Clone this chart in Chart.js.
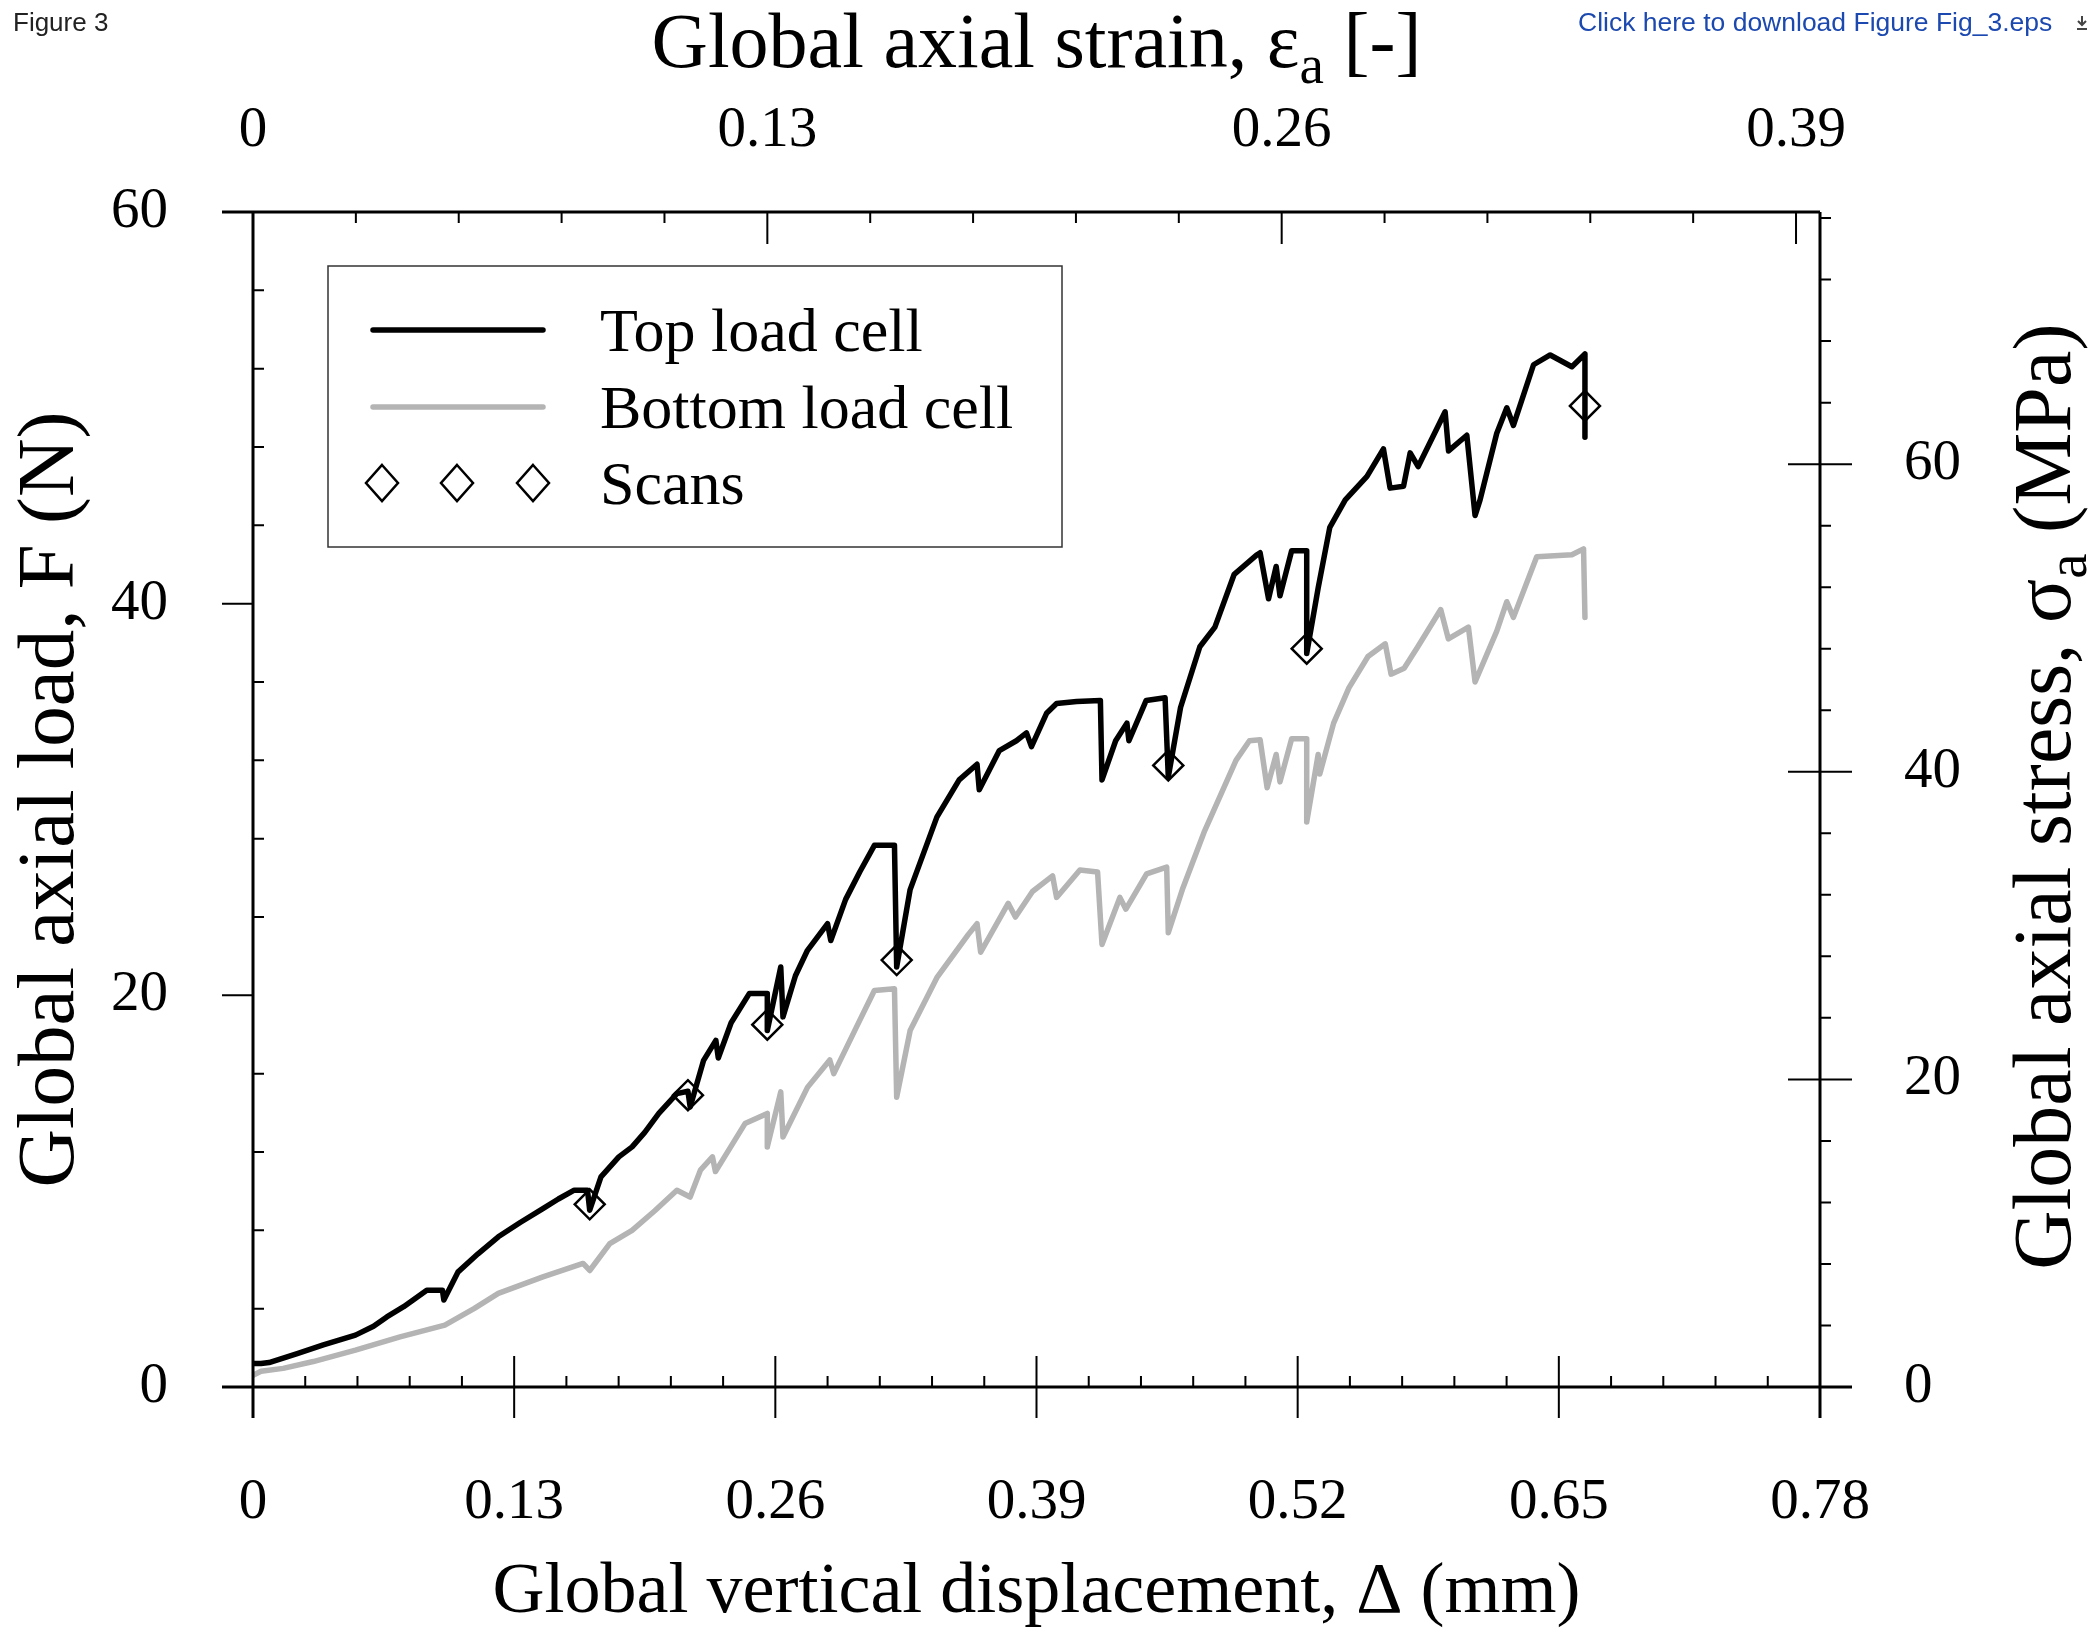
<!DOCTYPE html>
<html>
<head>
<meta charset="utf-8">
<script src="https://cdn.jsdelivr.net/npm/chart.js@4.4.1/dist/chart.umd.min.js"></script>
<style>
  html, body { margin: 0; padding: 0; background: #fff; }
  #wrap { position: relative; width: 2097px; height: 1632px; }
  #fig { position: absolute; left: 13px; top: 7px; font: 26px "Liberation Sans", Arial, sans-serif; color: #222; }
  #dl { position: absolute; left: 1578px; top: 7px; font: 26.5px "Liberation Sans", Arial, sans-serif; color: #1c49b0; white-space: nowrap; }
  #dl svg { position: absolute; left: 497px; top: 8px; }
</style>
</head>
<body>
<div id="wrap">
  <canvas id="myChart" width="2097" height="1632"></canvas>
  <div id="fig">Figure 3</div>
  <div id="dl">Click here to download Figure Fig_3.eps<svg width="14" height="16" viewBox="0 0 14 16"><path d="M7 1v8M3 6l4 4 4-4M2 14h10" stroke="#444" stroke-width="2" fill="none"/></svg></div>
</div>
<script>
// displacement (mm) and load (N)
const topDisp = [0, 0.004, 0.008, 0.022, 0.035, 0.051, 0.06, 0.0666, 0.075, 0.0865, 0.0943, 0.095, 0.1021, 0.112, 0.1221, 0.133, 0.1443, 0.152, 0.1599, 0.1665, 0.1676, 0.1732, 0.1821, 0.1887, 0.195, 0.202, 0.211, 0.2165, 0.2176, 0.2243, 0.2304, 0.2316, 0.238, 0.2471, 0.256, 0.256, 0.2627, 0.2638, 0.27, 0.276, 0.286, 0.2876, 0.295, 0.302, 0.3093, 0.3193, 0.3204, 0.3271, 0.3404, 0.3515, 0.3604, 0.3615, 0.3715, 0.38, 0.385, 0.3875, 0.395, 0.40, 0.41, 0.4218, 0.4226, 0.4294, 0.435, 0.436, 0.4446, 0.454, 0.4556, 0.4617, 0.4713, 0.4788, 0.4884, 0.4998, 0.5013, 0.5055, 0.5093, 0.5112, 0.517, 0.5245, 0.5245, 0.5302, 0.536, 0.5437, 0.5545, 0.5627, 0.566, 0.5727, 0.576, 0.580, 0.5934, 0.5951, 0.6042, 0.6083, 0.6108, 0.6191, 0.6241, 0.6274, 0.6374, 0.6457, 0.6565, 0.663, 0.663];
const topLoad = [1.2, 1.2, 1.25, 1.71, 2.15, 2.65, 3.1, 3.58, 4.1, 4.94, 4.94, 4.44, 5.88, 6.8, 7.67, 8.4, 9.11, 9.6, 10.05, 10.05, 9.03, 10.73, 11.75, 12.26, 13.0, 13.97, 14.98, 15.1, 14.3, 16.68, 17.7, 16.8, 18.6, 20.1, 20.1, 18.2, 21.45, 18.9, 21.0, 22.3, 23.66, 22.8, 24.9, 26.3, 27.66, 27.66, 21.45, 25.4, 29.1, 31.0, 31.8, 30.5, 32.5, 33.0, 33.4, 32.7, 34.4, 34.9, 35.0, 35.06, 31.0, 33.0, 33.9, 33.0, 35.06, 35.2, 31.15, 34.7, 37.8, 38.8, 41.5, 42.5, 42.6, 40.25, 41.9, 40.4, 42.7, 42.7, 37.45, 40.8, 43.9, 45.3, 46.5, 47.9, 45.9, 46.0, 47.7, 47.0, 49.8, 47.8, 48.6, 44.5, 45.3, 48.7, 50.0, 49.1, 52.2, 52.7, 52.1, 52.75, 48.5];

const bottomDisp = [0, 0.004, 0.015, 0.03, 0.051, 0.0732, 0.0955, 0.11, 0.1221, 0.1443, 0.1643, 0.1676, 0.1776, 0.1887, 0.20, 0.211, 0.2176, 0.2227, 0.2287, 0.2302, 0.2449, 0.256, 0.256, 0.2627, 0.2638, 0.276, 0.2871, 0.2891, 0.30, 0.3093, 0.3193, 0.3204, 0.3271, 0.3404, 0.356, 0.3604, 0.3622, 0.3759, 0.3795, 0.388, 0.398, 0.40, 0.4116, 0.4204, 0.4226, 0.4315, 0.4345, 0.4448, 0.4548, 0.4556, 0.4626, 0.4737, 0.4893, 0.496, 0.5013, 0.5048, 0.5093, 0.5112, 0.517, 0.5245, 0.5245, 0.5302, 0.531, 0.5379, 0.5455, 0.555, 0.5636, 0.5665, 0.573, 0.5798, 0.5912, 0.595, 0.605, 0.6083, 0.6191, 0.6241, 0.6274, 0.639, 0.6565, 0.6623, 0.663];
const bottomLoad = [0.6, 0.8, 0.95, 1.3, 1.88, 2.56, 3.16, 4.0, 4.78, 5.62, 6.31, 5.95, 7.32, 8.0, 9.0, 10.05, 9.7, 11.07, 11.75, 11.0, 13.45, 13.97, 12.26, 15.07, 12.77, 15.3, 16.7, 16.0, 18.3, 20.25, 20.34, 14.8, 18.2, 20.9, 23.1, 23.66, 22.2, 24.7, 24.0, 25.3, 26.1, 25.0, 26.4, 26.3, 22.6, 25.0, 24.4, 26.2, 26.55, 23.2, 25.4, 28.4, 32.0, 33.0, 33.05, 30.6, 32.3, 30.9, 33.1, 33.1, 28.85, 32.3, 31.3, 33.9, 35.7, 37.3, 37.95, 36.4, 36.7, 37.8, 39.7, 38.2, 38.8, 36.0, 38.6, 40.1, 39.3, 42.4, 42.5, 42.8, 39.3];

const scanDisp = [0.1676, 0.2165, 0.256, 0.3204, 0.4556, 0.5245, 0.663];
const scanLoad = [9.33, 14.9, 18.5, 21.8, 31.74, 37.7, 50.1];

const dispTicks = [0, 0.13, 0.26, 0.39, 0.52, 0.65, 0.78];
const dispTickLabels = ["0", "0.13", "0.26", "0.39", "0.52", "0.65", "0.78"];
const strainTicks = [0, 0.13, 0.26, 0.39];
const strainTickLabels = ["0", "0.13", "0.26", "0.39"];
const loadTicks = [0, 20, 40, 60];
const stressTicks = [0, 20, 40, 60];

const specimenHeight = 1.9694; // mm, links strain axis to displacement axis
const loadToStress = 4 / Math.PI; // 1 mm diameter section, N -> MPa

const SERIF = "'Liberation Serif', 'Times New Roman', serif";

function toPoints(xs, ys) {
  return xs.map((x, i) => ({ x: x, y: ys[i] }));
}

// text with an optional subscript piece, centred on (x, y) baseline
function drawParts(ctx, parts, x, y, size) {
  const subSize = Math.round(size * 0.7);
  let total = 0;
  parts.forEach((p) => {
    ctx.font = (p.sub ? subSize : size) + "px " + SERIF;
    total += ctx.measureText(p.t).width;
  });
  let cx = x - total / 2;
  parts.forEach((p) => {
    ctx.font = (p.sub ? subSize : size) + "px " + SERIF;
    ctx.fillText(p.t, cx, p.sub ? y + 16 : y);
    cx += ctx.measureText(p.t).width;
  });
}

const frame = {
  id: "frame",
  afterDraw(chart) {
    const { ctx, chartArea: a, scales } = chart;
    ctx.save();
    ctx.strokeStyle = "#000";
    ctx.fillStyle = "#000";
    ctx.lineCap = "butt";

    // axis lines
    ctx.lineWidth = 3;
    ctx.beginPath();
    ctx.moveTo(a.left - 31, a.top); ctx.lineTo(a.right, a.top);
    ctx.moveTo(a.left - 31, a.bottom); ctx.lineTo(a.right + 32, a.bottom);
    ctx.moveTo(a.left, a.top); ctx.lineTo(a.left, a.bottom + 31);
    ctx.moveTo(a.right, a.top); ctx.lineTo(a.right, a.bottom + 31);
    ctx.stroke();

    ctx.lineWidth = 2;
    ctx.beginPath();
    // bottom: displacement
    for (let v = 0; v <= 0.7801; v += 0.026) {
      const px = scales.x.getPixelForValue(v);
      const major = dispTicks.some((t) => Math.abs(t - v) < 1e-6);
      ctx.moveTo(px, a.bottom + (major ? 31 : 0));
      ctx.lineTo(px, a.bottom - (major ? 31 : 11));
    }
    // top: strain
    for (let v = 0; v <= scales.x2.max + 1e-6; v += 0.026) {
      const px = scales.x2.getPixelForValue(v);
      const major = strainTicks.some((t) => Math.abs(t - v) < 1e-6);
      ctx.moveTo(px, a.top);
      ctx.lineTo(px, a.top + (major ? 32 : 11));
    }
    // left: load
    for (let v = 0; v <= 60.001; v += 4) {
      const py = scales.y.getPixelForValue(v);
      if (loadTicks.includes(v)) {
        ctx.moveTo(a.left - 31, py); ctx.lineTo(a.left, py);
      } else {
        ctx.moveTo(a.left, py); ctx.lineTo(a.left + 11, py);
      }
    }
    // right: stress
    for (let v = 0; v <= scales.y2.max; v += 4) {
      const py = scales.y2.getPixelForValue(v);
      if (stressTicks.includes(v)) {
        ctx.moveTo(a.right - 32, py); ctx.lineTo(a.right + 32, py);
      } else {
        ctx.moveTo(a.right, py); ctx.lineTo(a.right + 11, py);
      }
    }
    ctx.stroke();

    // axis titles
    const cx = (a.left + a.right) / 2;
    const cy = (a.top + a.bottom) / 2;
    ctx.textAlign = "left";
    ctx.textBaseline = "alphabetic";
    drawParts(ctx, [{ t: "Global axial strain, \u03b5" }, { t: "a", sub: true }, { t: " [-]" }], cx, a.top - 145, 78);
    drawParts(ctx, [{ t: "Global vertical displacement, \u0394 (mm)" }], cx, a.bottom + 225, 72);

    ctx.save();
    ctx.translate(a.left - 180, cy);
    ctx.rotate(-Math.PI / 2);
    drawParts(ctx, [{ t: "Global axial load, F (N)" }], 0, 0, 81);
    ctx.restore();

    ctx.save();
    ctx.translate(a.right + 250, cy - 3);
    ctx.rotate(-Math.PI / 2);
    drawParts(ctx, [{ t: "Global axial stress, \u03c3" }, { t: "a", sub: true }, { t: " (MPa)" }], 0, 0, 82);
    ctx.restore();

    // legend
    const lx = a.left + 75, ly = a.top + 54;
    ctx.lineWidth = 1.5;
    ctx.strokeStyle = "#333";
    ctx.strokeRect(lx, ly, 734, 281);

    const rows = [
      { label: "Top load cell", color: "#000", y: ly + 64 },
      { label: "Bottom load cell", color: "#b4b4b4", y: ly + 141 },
      { label: "Scans", y: ly + 217 },
    ];
    ctx.font = "62px " + SERIF;
    ctx.fillStyle = "#000";
    rows.forEach((r) => {
      if (r.color) {
        ctx.strokeStyle = r.color;
        ctx.lineWidth = 5.5;
        ctx.lineCap = "round";
        ctx.beginPath();
        ctx.moveTo(lx + 45, r.y); ctx.lineTo(lx + 215, r.y);
        ctx.stroke();
      } else {
        ctx.strokeStyle = "#000";
        ctx.lineWidth = 2.5;
        [54, 129, 205].forEach((dx) => {
          const x = lx + dx;
          ctx.beginPath();
          ctx.moveTo(x, r.y - 18); ctx.lineTo(x + 16, r.y);
          ctx.lineTo(x, r.y + 18); ctx.lineTo(x - 16, r.y);
          ctx.closePath();
          ctx.stroke();
        });
      }
      ctx.fillText(r.label, lx + 272, r.y + 21);
    });
    ctx.restore();
  },
};

const tickFont = { family: SERIF, size: 57 };
const ctx = document.getElementById("myChart").getContext("2d");

new Chart(ctx, {
  type: "line",
  data: {
    datasets: [
      {
        label: "Scans",
        data: toPoints(scanDisp, scanLoad),
        showLine: false,
        pointStyle: "rectRot",
        pointRadius: 15,
        pointBorderWidth: 2.5,
        pointBorderColor: "#000",
        pointBackgroundColor: "rgba(0,0,0,0)",
        order: 0,
      },
      {
        label: "Top load cell",
        data: toPoints(topDisp, topLoad),
        borderColor: "#000",
        borderWidth: 5.5,
        pointRadius: 0,
        tension: 0,
        borderJoinStyle: "round",
        borderCapStyle: "round",
        order: 1,
      },
      {
        label: "Bottom load cell",
        data: toPoints(bottomDisp, bottomLoad),
        borderColor: "#b4b4b4",
        borderWidth: 5.5,
        pointRadius: 0,
        tension: 0,
        borderJoinStyle: "round",
        borderCapStyle: "round",
        order: 2,
      },
    ],
  },
  options: {
    responsive: false,
    devicePixelRatio: 1,
    animation: false,
    layout: { padding: 0 },
    plugins: {
      legend: { display: false },
      tooltip: { enabled: false },
    },
    scales: {
      x: {
        type: "linear",
        position: "bottom",
        min: 0,
        max: 0.78,
        afterBuildTicks: (s) => { s.ticks = dispTicks.map((v) => ({ value: v })); },
        afterFit: (s) => { s.height = 245; },
        grid: { display: false, drawTicks: false },
        border: { display: false },
        ticks: { font: tickFont, color: "#000", padding: 82, maxRotation: 0, autoSkip: false, callback: (v, i) => dispTickLabels[i] },
      },
      x2: {
        type: "linear",
        position: "top",
        min: 0,
        max: 0.78 / specimenHeight,
        afterBuildTicks: (s) => { s.ticks = strainTicks.map((v) => ({ value: v })); },
        afterFit: (s) => { s.height = 212; },
        grid: { display: false, drawTicks: false },
        border: { display: false },
        ticks: { font: tickFont, color: "#000", padding: 47, maxRotation: 0, autoSkip: false, callback: (v, i) => strainTickLabels[i] },
      },
      y: {
        type: "linear",
        position: "left",
        min: 0,
        max: 60,
        afterBuildTicks: (s) => { s.ticks = loadTicks.map((v) => ({ value: v })); },
        afterFit: (s) => { s.width = 253; },
        grid: { display: false, drawTicks: false },
        border: { display: false },
        ticks: { font: tickFont, color: "#000", padding: 85, callback: (v) => String(v) },
      },
      y2: {
        type: "linear",
        position: "right",
        min: 0,
        max: 60 * loadToStress,
        afterBuildTicks: (s) => { s.ticks = stressTicks.map((v) => ({ value: v })); },
        afterFit: (s) => { s.width = 277; },
        grid: { display: false, drawTicks: false },
        border: { display: false },
        ticks: { font: tickFont, color: "#000", padding: 84, callback: (v) => String(v) },
      },
    },
  },
  plugins: [frame],
});
</script>
</body>
</html>
